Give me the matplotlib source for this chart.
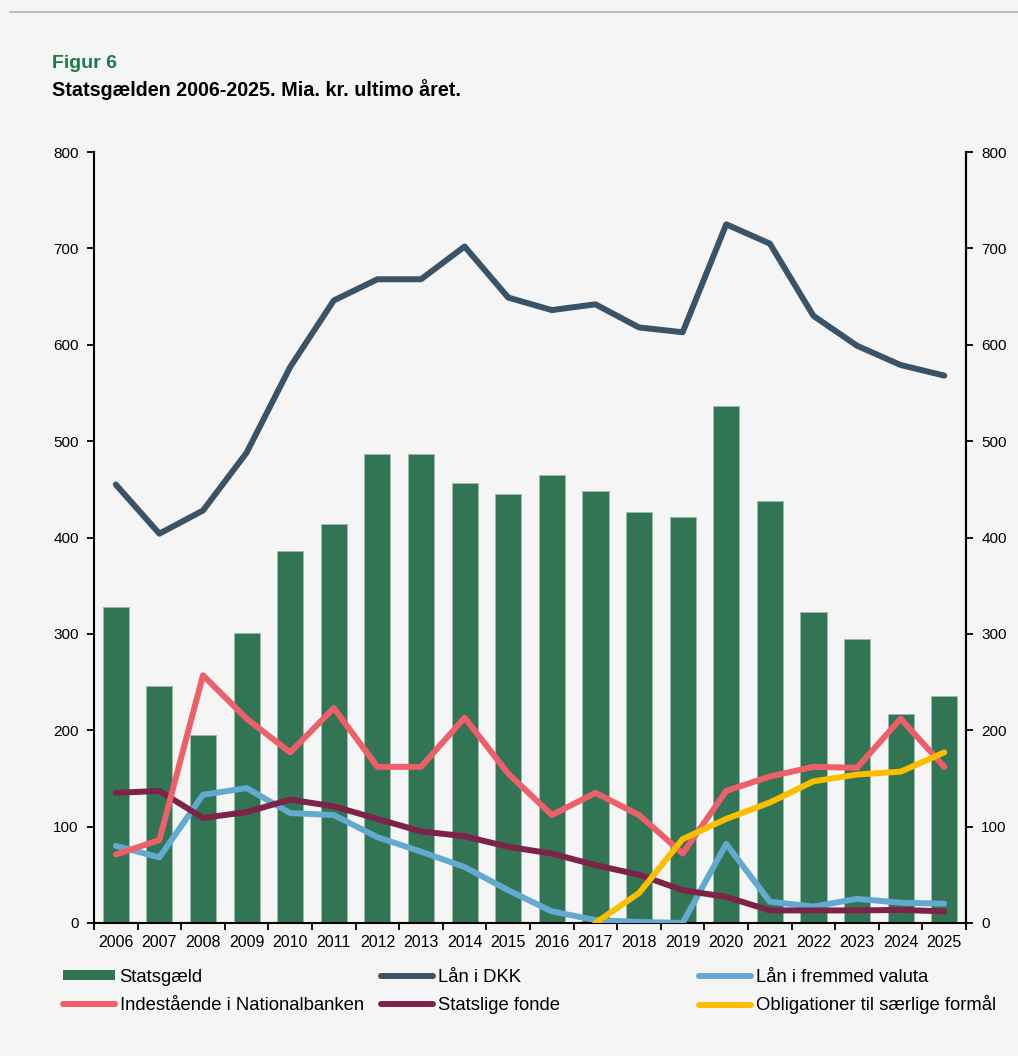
import matplotlib
matplotlib.use('Agg')
import matplotlib.pyplot as plt
import numpy as np
from matplotlib.lines import Line2D
from matplotlib.patches import Patch

plt.rcParams['font.family'] = ['Liberation Sans', 'DejaVu Sans']

years = list(range(2006, 2026))
statsgaeld = [328, 246, 195, 301, 386, 414, 487, 487, 457, 445, 465, 448, 426, 421, 536, 438, 323, 295, 217, 235]
laan_dkk = [455, 404, 428, 488, 577, 646, 668, 668, 702, 649, 636, 642, 618, 613, 725, 705, 630, 599, 579, 568]
laan_fremmed = [80, 68, 133, 140, 114, 112, 89, 74, 58, 34, 12, 3, 1, 0, 82, 22, 17, 25, 21, 20]
indestaaende = [71, 86, 257, 212, 177, 223, 162, 162, 213, 155, 112, 135, 112, 72, 137, 152, 162, 161, 212, 162]
statslige_fonde = [135, 137, 109, 115, 128, 121, 108, 95, 90, 79, 72, 60, 50, 34, 27, 13, 13, 13, 13.5, 12]
oblig_years = list(range(2017, 2026))
obligationer = [0, 31, 87, 108, 125, 147, 154, 157, 177]

bg = '#f5f5f5'
c_bar = '#317554'
c_dkk = '#3a5366'
c_fremmed = '#62aad0'
c_inde = '#ee5f6a'
c_fonde = '#7d2248'
c_oblig = '#fbbf00'

fig = plt.figure(figsize=(10.18, 10.56), dpi=100, facecolor=bg)
ax = fig.add_axes([0.0923, 0.126, 0.8567, 0.730], facecolor=bg)

x = np.arange(len(years))
ax.bar(x, statsgaeld, width=0.6, color=c_bar, edgecolor='#9cbcab', linewidth=0.6, zorder=2)

lw = 4.3
ax.plot(x, laan_dkk, color=c_dkk, lw=lw, solid_capstyle='round', zorder=3)
ax.plot(x, laan_fremmed, color=c_fremmed, lw=lw, solid_capstyle='round', zorder=3)
ax.plot(x, indestaaende, color=c_inde, lw=lw, solid_capstyle='round', zorder=4)
ax.plot(x, statslige_fonde, color=c_fonde, lw=lw, solid_capstyle='round', zorder=3)
ox = [years.index(y) for y in oblig_years]
ax.plot(ox, obligationer, color=c_oblig, lw=lw, solid_capstyle='round', zorder=5)

ax.set_xlim(-0.5, len(years) - 0.5)
ax.set_ylim(0, 800)
yt = np.arange(0, 801, 100)
ax.set_yticks(yt)
ax.set_xticks(x)
ax.set_xticklabels([str(y) for y in years], fontsize=11.5,
                   family=['Liberation Sans Narrow', 'Liberation Sans'])
ax.set_xticks(np.arange(-0.5, len(years)), minor=True)
ax.tick_params(axis='x', which='major', length=0, pad=9)
ax.tick_params(axis='x', which='minor', length=5, width=1.3, direction='out')
ax.tick_params(axis='y', length=5, width=1.3, direction='out', labelsize=11, pad=6)

ax.spines['top'].set_visible(False)
for s in ['left', 'right', 'bottom']:
    ax.spines[s].set_linewidth(1.5)
    ax.spines[s].set_color('black')

ax2 = ax.twinx()
ax2.set_ylim(0, 800)
ax2.set_yticks(yt)
ax2.tick_params(axis='y', length=5, width=1.3, direction='out', labelsize=11, pad=6)
for s in ['top', 'left', 'bottom']:
    ax2.spines[s].set_visible(False)
ax2.spines['right'].set_linewidth(1.5)

# header
fig.add_artist(Line2D([0.01, 1.0], [1 - 12 / 1056, 1 - 12 / 1056], color='#b0b0b0', lw=1.2))
fig.text(0.051, 1 - 63 / 1056, 'Figur 6', color='#1a7a4c', fontsize=14, fontweight='bold', va='center')
fig.text(0.051, 1 - 90 / 1056, 'Statsgælden 2006-2025. Mia. kr. ultimo året.', color='black',
         fontsize=14.2, fontweight='bold', va='center')

# legend: one entry per slot so rows line up
def lline(c):
    return Line2D([], [], color=c, lw=lw, solid_capstyle='round')

entries = [
    (Patch(facecolor=c_bar), 'Statsgæld', 63, 977),
    (lline(c_dkk), 'Lån i DKK', 381, 977),
    (lline(c_fremmed), 'Lån i fremmed valuta', 699, 977),
    (lline(c_inde), 'Indestående i Nationalbanken', 63, 1005),
    (lline(c_fonde), 'Statslige fonde', 381, 1005),
    (lline(c_oblig), 'Obligationer til særlige formål', 699, 1005),
]
for h, lab, px, py in entries:
    leg = fig.legend([h], [lab], loc='center left', bbox_to_anchor=(px / 1018, 1 - py / 1056),
                     frameon=False, fontsize=13.3, handlelength=2.8, handleheight=0.5,
                     handletextpad=0.27, borderaxespad=0, borderpad=0)

fig.savefig('out.png', dpi=100, facecolor=bg)
